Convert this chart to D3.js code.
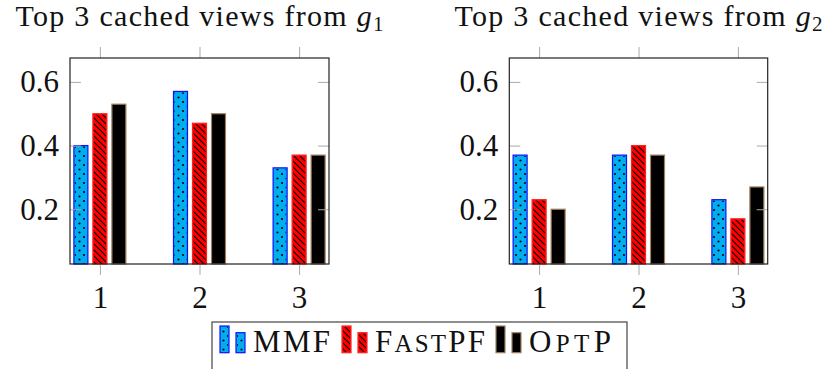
<!DOCTYPE html>
<html>
<head>
<meta charset="utf-8">
<script src="https://cdn.jsdelivr.net/npm/d3@7"></script>
<style>
  body { margin: 0; background: #fff; }
</style>
</head>
<body>
<div id="chart"></div>
<script>
let categories = [1, 2, 3];
let seriesNames = ["MMF", "FastPF", "OptP"];
let yTicks = [0.2, 0.4, 0.6];

// values, one array per series and panel
let mmfG1    = [0.40, 0.57, 0.33],
    fastpfG1 = [0.50, 0.47, 0.37],
    optpG1   = [0.53, 0.50, 0.37];

let mmfG2    = [0.37, 0.37, 0.23],
    fastpfG2 = [0.23, 0.40, 0.17],
    optpG2   = [0.20, 0.37, 0.27];

let panels = [
  { title: "1", left: 70,    right: 329,   values: [mmfG1, fastpfG1, optpG1] },
  { title: "2", left: 509.3, right: 767.7, values: [mmfG2, fastpfG2, optpG2] }
];

let width = 828, height = 369;
let plotTop = 58, plotBottom = 264;
let serif = "'Liberation Serif'";

let svg = d3.select("#chart").append("svg")
  .attr("width", width)
  .attr("height", height);

let defs = svg.append("defs");

let dots = defs.append("pattern")
  .attr("id", "dots")
  .attr("patternUnits", "userSpaceOnUse")
  .attr("x", 1).attr("y", 1)
  .attr("width", 9).attr("height", 9);
dots.append("circle").attr("cx", 2).attr("cy", 2).attr("r", 1.1).attr("fill", "#000");
dots.append("circle").attr("cx", 6.5).attr("cy", 6.5).attr("r", 1.1).attr("fill", "#000");

let nwlines = defs.append("pattern")
  .attr("id", "nwlines")
  .attr("patternUnits", "userSpaceOnUse")
  .attr("width", 6).attr("height", 6);
nwlines.append("path")
  .attr("d", "M-1,-1 L7,7 M-1,5 L1,7 M5,-1 L7,1")
  .attr("stroke", "#000").attr("stroke-width", 1.1);

let style = {
  MMF:    { fill: "#00aeef", stroke: "#1010ff", pattern: "url(#dots)" },
  FastPF: { fill: "#ff0000", stroke: "#ff2020", pattern: "url(#nwlines)" },
  OptP:   { fill: "#000000", stroke: "#a08060", pattern: null }
};

let offset = d3.scalePoint().domain(seriesNames).range([-19, 19]);
let barWidth = 14;

panels.forEach(function(p) {
  let x = d3.scaleLinear().domain([0.7, 3.3]).range([p.left, p.right]);
  let y = d3.scaleLinear().domain([0.028, 0.675]).range([plotBottom, plotTop]);

  let g = svg.append("g");

  // title
  let t = g.append("text")
    .attr("x", (p.left + p.right) / 2)
    .attr("y", 26)
    .attr("text-anchor", "middle")
    .attr("textLength", 368)
    .attr("lengthAdjust", "spacing")
    .style("font-family", serif)
    .style("font-size", "30px")
    .style("fill", "#111");
  t.append("tspan").text("Top 3 cached views from ");
  t.append("tspan").style("font-style", "italic").text("g");
  t.append("tspan").style("font-size", "21px").attr("dy", 5).text(p.title);

  // bars
  seriesNames.forEach(function(s, si) {
    let vals = p.values[si];
    let bars = g.append("g");
    bars.selectAll("rect.fill")
      .data(categories)
      .enter().append("rect")
        .attr("x", function(c) { return x(c) + offset(s) - barWidth / 2; })
        .attr("y", function(c, i) { return y(vals[i]); })
        .attr("width", barWidth)
        .attr("height", function(c, i) { return plotBottom - y(vals[i]); })
        .attr("fill", style[s].fill)
        .attr("stroke", style[s].stroke)
        .attr("stroke-width", 1.2);
    if (style[s].pattern) {
      bars.selectAll("rect.pat")
        .data(categories)
        .enter().append("rect")
          .attr("x", function(c) { return x(c) + offset(s) - barWidth / 2 + 1; })
          .attr("y", function(c, i) { return y(vals[i]) + 1; })
          .attr("width", barWidth - 2)
          .attr("height", function(c, i) { return plotBottom - y(vals[i]) - 1; })
          .attr("fill", style[s].pattern);
    }
  });

  // axes
  let axisStyle = function(sel) {
    sel.attr("font-family", null).attr("font-size", null);
    sel.select(".domain").remove();
    sel.selectAll(".tick line").attr("stroke", "#aaa").attr("stroke-width", 1);
    sel.selectAll(".tick text")
      .style("font-family", serif)
      .style("font-size", "31px")
      .style("fill", "#111");
  };

  g.append("g")
    .attr("transform", "translate(0," + plotBottom + ")")
    .call(d3.axisBottom(x).tickValues(categories).tickSize(11).tickPadding(11).tickFormat(d3.format("d")))
    .call(axisStyle);

  g.append("g")
    .attr("transform", "translate(0," + plotTop + ")")
    .call(d3.axisTop(x).tickValues(categories).tickSize(11).tickFormat(""))
    .call(axisStyle);

  g.append("g")
    .attr("transform", "translate(" + p.left + ",0)")
    .call(d3.axisLeft(y).tickValues(yTicks).tickSize(-11).tickPadding(11).tickFormat(d3.format(".1f")))
    .call(axisStyle);

  g.append("g")
    .attr("transform", "translate(" + p.right + ",0)")
    .call(d3.axisRight(y).tickValues(yTicks).tickSize(-11).tickFormat(""))
    .call(axisStyle);

  // frame
  g.append("rect")
    .attr("x", p.left).attr("y", plotTop)
    .attr("width", p.right - p.left).attr("height", plotBottom - plotTop)
    .attr("fill", "none").attr("stroke", "#222").attr("stroke-width", 1.2);
});

// legend
let legend = svg.append("g");
legend.append("rect")
  .attr("x", 212).attr("y", 322)
  .attr("width", 415).attr("height", 60)
  .attr("fill", "#fff").attr("stroke", "#444").attr("stroke-width", 1.2);

let legendX = d3.scaleOrdinal().domain(seriesNames).range([220, 342, 496]);
let legendTextWidth = { MMF: 77, FastPF: 110, OptP: 82 };
let labels = {
  MMF:    [["MMF", 31]],
  FastPF: [["F", 31], ["AST", 25], ["PF", 31]],
  OptP:   [["O", 31], ["PT", 25], ["P", 31]]
};

seriesNames.forEach(function(s) {
  let lx = legendX(s);
  [[0, 326, 26.7], [16, 332.7, 20]].forEach(function(b) {
    legend.append("rect")
      .attr("x", lx + b[0]).attr("y", b[1])
      .attr("width", 9).attr("height", b[2])
      .attr("fill", style[s].fill)
      .attr("stroke", style[s].stroke).attr("stroke-width", 1.2);
    if (style[s].pattern) {
      legend.append("rect")
        .attr("x", lx + b[0] + 1).attr("y", b[1] + 1)
        .attr("width", 7).attr("height", b[2] - 2)
        .attr("fill", style[s].pattern);
    }
  });
  let txt = legend.append("text")
    .attr("x", lx + 33).attr("y", 352)
    .attr("textLength", legendTextWidth[s])
    .attr("lengthAdjust", "spacing")
    .style("font-family", serif)
    .style("fill", "#111");
  labels[s].forEach(function(part) {
    txt.append("tspan").style("font-size", part[1] + "px").text(part[0]);
  });
});
</script>
</body>
</html>
